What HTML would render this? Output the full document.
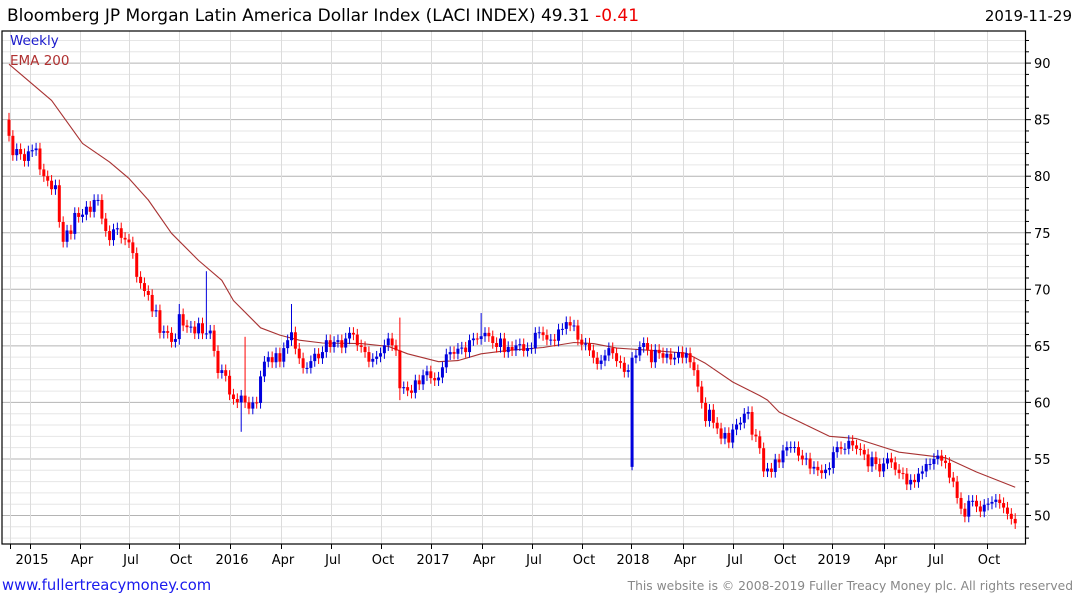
<!DOCTYPE html>
<html><head><meta charset="utf-8">
<style>
html,body{margin:0;padding:0;background:#fff;width:1075px;height:600px;overflow:hidden}
svg{display:block;font-family:"DejaVu Sans","Liberation Sans",sans-serif}
</style></head>
<body>
<svg id="chart" width="1075" height="600" viewBox="0 0 1075 600">
<text x="7" y="21" font-size="17" fill="#000">Bloomberg JP Morgan Latin America Dollar Index (LACI INDEX) 49.31 <tspan fill="#e00">-0.41</tspan></text>
<text x="1072" y="21" font-size="15" fill="#000" text-anchor="end">2019-11-29</text>
<g id="grid"></g>
<g id="ema"></g>
<g id="bars"></g>
<rect x="2" y="31" width="1023.5" height="513" fill="none" stroke="#000" stroke-width="1.2"/>
<g id="axes"></g>
<text x="10" y="45" font-size="13.5" fill="#1a1acc">Weekly</text>
<text x="10" y="65" font-size="13.5" fill="#b03030">EMA 200</text>
<text x="2" y="590" font-size="14.8" fill="#1a1aee">www.fullertreacymoney.com</text>
<text x="1073" y="590" font-size="12.3" fill="#888" text-anchor="end">This website is © 2008-2019 Fuller Treacy Money plc. All rights reserved</text>
</svg>
<script>
const closes=[83.57,81.86,82.4,81.95,81.35,82.2,82.3,82.45,80.6,80.0,79.6,78.85,79.2,75.95,74.2,75.2,74.9,76.75,76.4,76.6,
77.3,76.85,77.9,77.9,76.25,75.15,74.35,75.3,75.4,74.55,74.4,74.15,73.2,71.1,70.55,69.85,69.5,68.05,68.15,66.15,
66.3,66.15,65.35,65.6,67.8,66.8,66.65,66.7,66.1,67.0,66.1,66.1,66.35,64.55,62.6,62.85,62.35,60.7,60.3,60.0,
60.6,60.0,59.45,60.0,59.95,62.3,63.6,64.0,63.55,64.35,63.6,64.8,65.5,66.2,64.75,63.9,63.05,63.05,63.65,64.3,
63.9,64.45,65.5,64.9,65.35,65.5,64.85,65.65,66.15,66.0,65.05,64.9,64.45,63.6,63.85,64.05,64.35,65.05,65.65,65.05,
64.6,61.25,61.35,61.05,60.85,61.95,61.6,62.4,62.75,62.15,61.95,62.2,63.1,64.25,64.45,64.3,64.75,64.85,64.45,65.5,
65.65,65.6,65.85,66.15,65.85,65.25,64.9,65.65,64.45,64.9,64.6,65.05,65.15,64.55,64.8,64.8,66.15,66.2,65.95,65.55,
65.55,65.45,66.45,66.5,67.1,66.8,66.8,65.55,65.1,65.2,64.6,63.95,63.4,63.7,64.15,64.8,64.35,63.65,63.5,62.7,
62.85,63.95,64.15,64.9,65.25,64.65,63.55,64.65,64.35,63.95,64.3,63.8,63.95,64.45,63.95,64.35,63.55,62.85,61.4,59.95,
58.35,59.35,58.2,57.7,56.8,57.3,56.45,57.6,58.05,58.2,59.0,59.15,57.15,57.0,55.95,53.9,54.15,53.85,54.95,54.7,
55.75,56.05,56.05,56.05,55.3,54.95,55.05,54.15,54.3,54.0,53.75,54.05,54.2,55.6,56.05,55.9,55.9,56.6,56.2,55.9,
55.8,55.4,54.35,55.15,54.55,53.9,54.6,55.05,54.7,54.05,53.75,53.7,52.75,53.15,52.95,53.7,53.9,54.55,54.55,55.0,
55.3,54.85,54.65,53.35,53.0,51.55,50.6,49.9,51.3,51.3,50.8,50.35,50.95,51.05,51.2,51.4,51.1,50.7,50.15,49.7,49.31];
const openOverrides={0:85.0,161:54.3};
const highOverrides={0:85.6,44:68.7,51:71.6,61:65.8,73:68.7,101:67.5,122:67.9};
const lowOverrides={60:57.4,101:60.2,161:54.0};
const emaBars=[0,11,19,26,31,36,42,49,55,58,65,70,75,81,91,98,103,111,116,122,129,138,146,151,157,166,175,180,187,194,196,199,212,219,230,242,250,260];
const emaVals=[89.9,86.7,82.9,81.25,79.8,77.9,74.95,72.55,70.8,69.0,66.6,65.95,65.5,65.25,65.2,64.95,64.3,63.6,63.7,64.3,64.6,64.85,65.3,65.2,64.8,64.6,64.35,63.45,61.8,60.6,60.2,59.15,57.0,56.8,55.6,55.1,53.85,52.5];
const yTicks=[50,55,60,65,70,75,80,85,90];
const xLabels=["2015","Apr","Jul","Oct","2016","Apr","Jul","Oct","2017","Apr","Jul","Oct","2018","Apr","Jul","Oct","2019","Apr","Jul","Oct"];
const xLabelPos=[32,82,131,181,232,283,333,383,433,484,534,584,633,685,735,785,834,886,936,989];

const NS="http://www.w3.org/2000/svg";
function yS(v){return 515.5-(v-50)*11.31;}
function xS(i){return 9+i*3.87;}
function mk(tag,attrs,parent){const e=document.createElementNS(NS,tag);for(const k in attrs)e.setAttribute(k,attrs[k]);parent.appendChild(e);return e;}
const grid=document.getElementById('grid'),axes=document.getElementById('axes'),bars=document.getElementById('bars'),emaG=document.getElementById('ema');
for(let v=47;v<=93;v++){
  const y=yS(v); if(y<31||y>544)continue;
  const major=v%5===0;
  const l=mk('line',{x1:2,x2:1025,y1:y,y2:y,stroke:major?'#b4b4b4':'#e6e6e6','stroke-width':1},grid);
  
  
  const t=mk('line',{x1:1025,x2:major?1031:1029,y1:y,y2:y,stroke:'#000','stroke-width':1},axes);
  
  
}
yTicks.forEach(v=>{
  const t=mk('text',{x:1034,y:yS(v)+5,'font-size':13,fill:'#000'},axes);
  t.textContent=v;
  
  
});
const vx=[10.5].concat(xLabelPos.map(p=>p-1.5));
vx.forEach(x=>{
  const l=mk('line',{x1:x,x2:x,y1:31,y2:544,stroke:'#dcdcdc','stroke-width':1},grid);
  
  
  const t=mk('line',{x1:x,x2:x,y1:544,y2:549,stroke:'#000','stroke-width':1},axes);
  
  
});
xLabels.forEach((s,i)=>{
  const t=mk('text',{x:xLabelPos[i],y:564,'font-size':13,fill:'#000','text-anchor':'middle'},axes);
  t.textContent=s;
  
  
});
let pts=emaBars.map((b,i)=>xS(b).toFixed(1)+','+yS(emaVals[i]).toFixed(1)).join(' ');
const pl=mk('polyline',{points:pts,fill:'none',stroke:'#a83232','stroke-width':1.1,'stroke-linejoin':'round'},emaG);


closes.forEach((c,i)=>{
  const o=(i in openOverrides)?openOverrides[i]:(i>0?closes[i-1]:c);
  const up=c>=o;
  const col=up?'#0000dd':'#ff0000';
  const hi=(i in highOverrides)?highOverrides[i]:Math.max(o,c)+0.5;
  const lo=(i in lowOverrides)?lowOverrides[i]:Math.min(o,c)-0.5;
  const x=xS(i);
  const g=mk('g',{},bars);
  
  
  mk('line',{x1:x,x2:x,y1:yS(hi),y2:yS(lo),stroke:col,'stroke-width':1},g);
  const yt=yS(Math.max(o,c)),yb=yS(Math.min(o,c));
  mk('rect',{x:x-1.5,y:yt,width:3,height:Math.max(1,yb-yt),fill:col},g);
});
</script>
</body></html>
